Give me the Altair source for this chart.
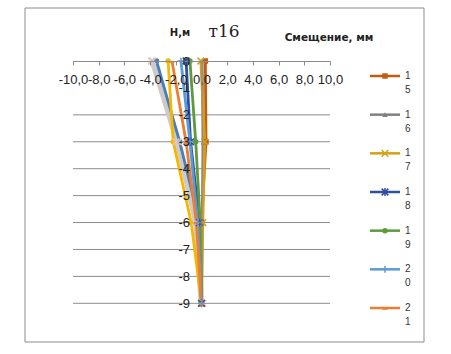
import altair as alt
import pandas as pd

# ---- data ----
depths = [0, -3, -6, -9]
series = ["11", "12", "13", "14", "15", "16", "17", "18", "19", "20", "21"]
values = {
    "11": [-3.9, -2.0, -0.5, 0.1],
    "12": [-3.8, -1.8, -0.4, 0.0],
    "13": [-3.5, -1.7, -0.15, 0.0],
    "14": [-2.6, -2.2, -0.8, 0.0],
    "15": [0.3, 0.35, 0.0, 0.0],
    "16": [0.05, 0.15, 0.05, 0.0],
    "17": [-0.05, 0.25, 0.1, 0.0],
    "18": [-1.2, -0.85, -0.15, 0.0],
    "19": [-0.9, -0.45, -0.1, 0.0],
    "20": [-1.6, -0.9, -0.3, 0.0],
    "21": [-2.3, -1.2, -0.4, 0.0],
}
colors = ["#F2C2B0", "#CBCBCB", "#4A7EBB", "#F5B800", "#C55A11", "#808080",
          "#D4A017", "#2F4F9F", "#5E9A3C", "#5B9BD5", "#ED7D31"]
widths = [3, 6, 2.8, 2.8, 2.8, 2.8, 2.8, 2.8, 2.8, 2.8, 2.8]
X_PATH = "M-1,-1L1,1M-1,1L1,-1"
STAR_PATH = "M-1,-1L1,1M-1,1L1,-1M0,-1.2L0,1.2"
PLUS_PATH = "M-1,0L1,0M0,-1L0,1"
DASH_PATH = "M-0.8,0.3L0.8,0.3"
markers = [X_PATH, X_PATH, "circle", "circle", "square", "triangle-up",
           X_PATH, STAR_PATH, "circle", PLUS_PATH, DASH_PATH]
filled_shapes = {"circle", "square", "triangle-up"}
legend_series = ["15", "16", "17", "18", "19", "20", "21"]
x_ticks = [-10, -8, -6, -4, -2, 0, 2, 4, 6, 8, 10]
y_ticks = [0, -1, -2, -3, -4, -5, -6, -7, -8, -9]
grid_vals = [-2, -3, -4, -5, -6, -7, -8, -9]

rows = []
for s, c, w, m in zip(series, colors, widths, markers):
    for k, (d, v) in enumerate(zip(depths, values[s])):
        rows.append({"series": s, "k": k, "depth": d, "x": v, "w": w,
                     "filled": m in filled_shapes})
df = pd.DataFrame(rows)
leg_rows = []
for i, s in enumerate(legend_series):
    j = series.index(s)
    leg_rows.append({"series": s, "li": i, "c1": s[0], "c2": s[1],
                     "filled": markers[j] in filled_shapes})
leg = pd.DataFrame(leg_rows)
grid = pd.DataFrame({"g": grid_vals})
titles = pd.DataFrame({"t": ["т16"]})

W, H = 257, 242.3
xs = alt.Scale(domain=[-10, 10], nice=False, zero=False)
ys = alt.Scale(domain=[-9, 0], nice=False, zero=False)
color = alt.Color("series:N", scale=alt.Scale(domain=series, range=colors), legend=None)
shape = alt.Shape("series:N", scale=alt.Scale(domain=series, range=markers), legend=None)
GRAY = "#8C8C8C"
FONT = "Liberation Sans"

xa = alt.Axis(
    orient="bottom", offset=-H, values=x_ticks, grid=False, title=None,
    domainColor=GRAY, tickColor=GRAY, tickSize=4, labelPadding=8,
    labelFont=FONT, labelFontSize=13, labelColor="#222", zindex=1,
    labelOverlap=False, labelFlush=False, labelBound=False, labelSeparation=0,
    labelExpr="replace(replace(format(datum.value, '.1f'), '.', ','), '\u2212', '-')")
ya = alt.Axis(
    orient="left", offset=-W / 2, values=y_ticks, grid=False, title=None,
    domainColor=GRAY, ticks=False, labelPadding=12,
    labelFont=FONT, labelFontSize=13, labelColor="#222", zindex=1,
    labelOverlap=False, labelFlush=False, labelBound=False, labelSeparation=0,
    labelExpr="replace(format(datum.value, 'd'), '\u2212', '-')")

base = alt.Chart(df)

gridrules = alt.Chart(grid).mark_rule(color=GRAY, strokeWidth=1).encode(
    x=alt.datum(-10, scale=xs, axis=xa), x2=alt.datum(10),
    y=alt.Y("g:Q", scale=ys, axis=ya)
)

lines = base.mark_line().encode(
    x=alt.X("x:Q", scale=xs, axis=xa),
    y=alt.Y("depth:Q", scale=ys, axis=ya),
    color=color,
    strokeWidth=alt.StrokeWidth("w:Q", scale=None),
    detail="series:N",
    order=alt.Order("k:Q"),
)

pts_f = base.transform_filter("datum.filled").mark_point(
    filled=True, size=30, opacity=1).encode(
    x=alt.X("x:Q", scale=xs, axis=xa), y=alt.Y("depth:Q", scale=ys, axis=ya),
    color=color, shape=shape)
pts_s = base.transform_filter("!datum.filled").mark_point(
    filled=False, size=45, strokeWidth=1.5, opacity=1).encode(
    x=alt.X("x:Q", scale=xs, axis=xa), y=alt.Y("depth:Q", scale=ys, axis=ya),
    color=color, shape=shape)

main = alt.layer(gridrules, lines, pts_f, pts_s)

# ---- legend (own vertical scale) ----
ly = alt.Y("li:Q", scale=alt.Scale(domain=[0, 6], range=[15, 247]), axis=None)
lbase = alt.Chart(leg)
leg_line = lbase.mark_rule(strokeWidth=2.5).encode(
    x=alt.value(297), x2=alt.value(327), y=ly, color=color)
leg_pf = lbase.transform_filter("datum.filled").mark_point(
    filled=True, size=30, opacity=1).encode(
    x=alt.value(312), y=ly, color=color, shape=shape)
leg_ps = lbase.transform_filter("!datum.filled").mark_point(
    filled=False, size=45, strokeWidth=1.5, opacity=1).encode(
    x=alt.value(312), y=ly, color=color, shape=shape)
leg_t1 = lbase.mark_text(align="left", baseline="middle", font=FONT,
                         fontSize=10, color="#333").encode(
    x=alt.value(332), y=ly, text="c1:N")
leg_t2 = lbase.mark_text(align="left", baseline="middle", font=FONT,
                         fontSize=10, color="#333", dy=14).encode(
    x=alt.value(332), y=ly, text="c2:N")
legend = alt.layer(leg_line, leg_pf, leg_ps, leg_t1, leg_t2)

# ---- titles and frame ----
tb = alt.Chart(titles)
t_main = tb.mark_text(font="DejaVu Serif", fontSize=17, color="#222",
                      align="center", baseline="middle").encode(
    x=alt.value(151), y=alt.value(-29), text="t:N")
t_y = tb.mark_text(font="DejaVu Sans", fontWeight="bold", fontSize=10,
                   color="#222", align="center", baseline="middle").encode(
    x=alt.value(107), y=alt.value(-28), text=alt.value("Н,м"))
t_x = tb.mark_text(font="DejaVu Sans", fontWeight="bold", fontSize=10.5,
                   color="#222", align="center", baseline="middle").encode(
    x=alt.value(256), y=alt.value(-23), text=alt.value("Смещение, мм"))
frame = tb.mark_rect(fillOpacity=0, stroke=GRAY, strokeWidth=1).encode(
    x=alt.value(-48), x2=alt.value(351), y=alt.value(-53), y2=alt.value(281))
deco = alt.layer(frame, t_main, t_y, t_x)

chart = alt.layer(deco, main, legend).resolve_scale(
    y="independent", color="shared", shape="shared"
).properties(
    width=W, height=H,
    autosize=alt.AutoSizeParams(type="none"),
    padding={"left": 73, "top": 61, "right": 121, "bottom": 354 - 61 - H},
    background="white",
).configure_view(stroke=None)

chart.save("out.html", embed_options={"renderer": "svg", "actions": False})
